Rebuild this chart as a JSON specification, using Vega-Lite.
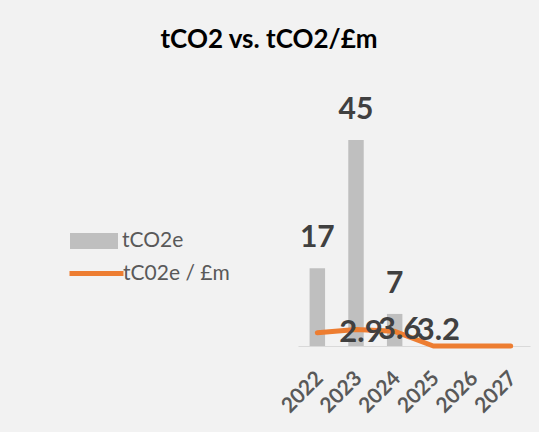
{
  "$schema": "https://vega.github.io/schema/vega-lite/v6.json",
  "width": 232,
  "height": 229,
  "autosize": {"type": "none"},
  "padding": {"left": 298, "top": 117, "right": 9, "bottom": 86},
  "background": "#f2f2f2",
  "title": {
    "text": "tCO2 vs. tCO2/£m",
    "font": "Lato",
    "fontSize": 26,
    "fontWeight": "bold",
    "color": "#000000",
    "anchor": "middle",
    "frame": "group",
    "baseline": "alphabetic",
    "offset": 21,
    "dx": -145
  },
  "data": {
    "values": [
      {"year": "2022", "tco2e": 17, "intensity": 2.9},
      {"year": "2023", "tco2e": 45, "intensity": 3.6},
      {"year": "2024", "tco2e": 7, "intensity": 3.2},
      {"year": "2025", "tco2e": null, "intensity": 0},
      {"year": "2026", "tco2e": null, "intensity": 0},
      {"year": "2027", "tco2e": null, "intensity": 0}
    ]
  },
  "encoding": {
    "x": {
      "field": "year",
      "type": "ordinal",
      "scale": {"paddingInner": 0.6, "paddingOuter": 0.3},
      "axis": {
        "title": null,
        "domainColor": "#d9d9d9",
        "domainWidth": 1,
        "ticks": false,
        "labelAngle": -45,
        "labelFont": "Lato",
        "labelFontSize": 21,
        "labelFontWeight": "bold",
        "labelColor": "#595959",
        "labelPadding": 21,
        "labelOffset": -5
      }
    }
  },
  "layer": [
    {
      "mark": {"type": "bar"},
      "encoding": {
        "y": {"field": "tco2e", "type": "quantitative", "scale": {"domain": [0, 50], "nice": false}, "axis": null},
        "fill": {
          "datum": "tCO2e",
          "scale": {"domain": ["tCO2e"], "range": ["#bfbfbf"]},
          "legend": {
            "title": null,
            "orient": "none",
            "legendX": -228,
            "legendY": 100,
            "padding": 0,
            "symbolType": "M-1,-0.333H1V0.333H-1Z",
            "symbolSize": 2304,
            "symbolStrokeWidth": 0,
            "labelFont": "Lato",
            "labelFontSize": 21,
            "labelColor": "#595959",
            "labelOffset": 4
          }
        }
      }
    },
    {
      "transform": [{"filter": "datum.tco2e > 0"}],
      "mark": {"type": "text", "font": "Lato", "fontSize": 30, "fontWeight": "bold", "color": "#404040", "baseline": "alphabetic", "dy": -21},
      "encoding": {
        "y": {"field": "tco2e", "type": "quantitative"},
        "text": {"field": "tco2e", "type": "quantitative"}
      }
    },
    {
      "mark": {"type": "line", "strokeWidth": 5, "strokeCap": "round", "strokeJoin": "round"},
      "encoding": {
        "y": {"field": "intensity", "type": "quantitative"},
        "stroke": {
          "datum": "tC02e / £m",
          "scale": {"domain": ["tC02e / £m"], "range": ["#ed7d31"]},
          "legend": {
            "title": null,
            "orient": "none",
            "legendX": -231,
            "legendY": 127,
            "padding": 0,
            "symbolType": "stroke",
            "symbolSize": 2916,
            "symbolStrokeWidth": 5,
            "labelFont": "Lato",
            "labelFontSize": 21,
            "labelColor": "#595959",
            "labelOffset": -3
          }
        }
      }
    },
    {
      "transform": [{"filter": "datum.intensity > 0"}],
      "mark": {"type": "text", "font": "Lato", "fontSize": 31, "fontWeight": "bold", "color": "#404040", "align": "left", "baseline": "middle", "dx": 22},
      "encoding": {
        "y": {"field": "intensity", "type": "quantitative"},
        "text": {"field": "intensity", "type": "quantitative", "format": ".1f"}
      }
    }
  ],
  "config": {
    "view": {"stroke": null}
  }
}
